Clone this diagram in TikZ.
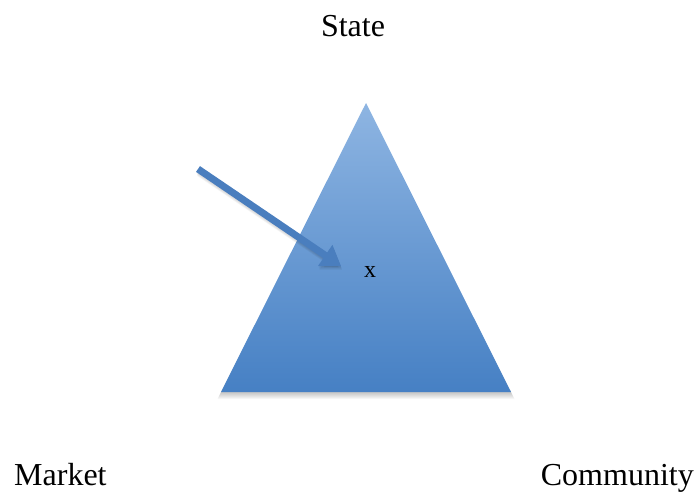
\documentclass[tikz,border=0pt]{standalone}
\usepackage{fontspec}
\setmainfont{Liberation Serif}
\usetikzlibrary{arrows.meta}
\definecolor{tritop}{HTML}{8EB5E2}
\definecolor{tribot}{HTML}{4680C4}
\definecolor{arrowblue}{HTML}{4A7EBE}
\tikzset{
  label text/.style={font=\fontsize{32}{36}\selectfont, inner sep=0pt},
  arrowline/.style={arrowblue, line width=7pt, -{Triangle[width=24pt,length=19pt]}},
}
\begin{document}
\begin{tikzpicture}[x=1pt,y=-1pt]
\useasboundingbox (0,0) rectangle (695,491);
\coordinate (apex) at (366,103);
\coordinate (bl) at (221,392);
\coordinate (br) at (511,392);
% soft shadow
\foreach \i in {1,...,7}{
  \fill[black, opacity=0.035] ([shift={(-0.5*\i,\i)}]bl) -- ([shift={(0.5*\i,\i)}]br) -- ([shift={(0,\i)}]apex) -- cycle;
}
\shade[top color=tritop, bottom color=tribot] (apex) -- (br) -- (bl) -- cycle;
% arrow
\coordinate (as) at (198,169);
\coordinate (ae) at (341,266);
\foreach \i in {1,...,4}{
  \draw[black, opacity=0.04, line width=7pt, -{Triangle[width=24pt,length=19pt]}] ([shift={(0.3*\i,\i)}]as) -- ([shift={(0.3*\i,\i)}]ae);
}
\draw[arrowline] (as) -- (ae);
\node[font=\fontsize{24}{28}\selectfont, inner sep=0pt, anchor=base] (x) at (370,277) {x};
\node[label text, anchor=base] (state) at (353,36) {State};
\node[label text, anchor=base west] (market) at (14,485) {Market};
\node[label text, anchor=base east] (community) at (694,485) {Community};
\end{tikzpicture}
\end{document}
